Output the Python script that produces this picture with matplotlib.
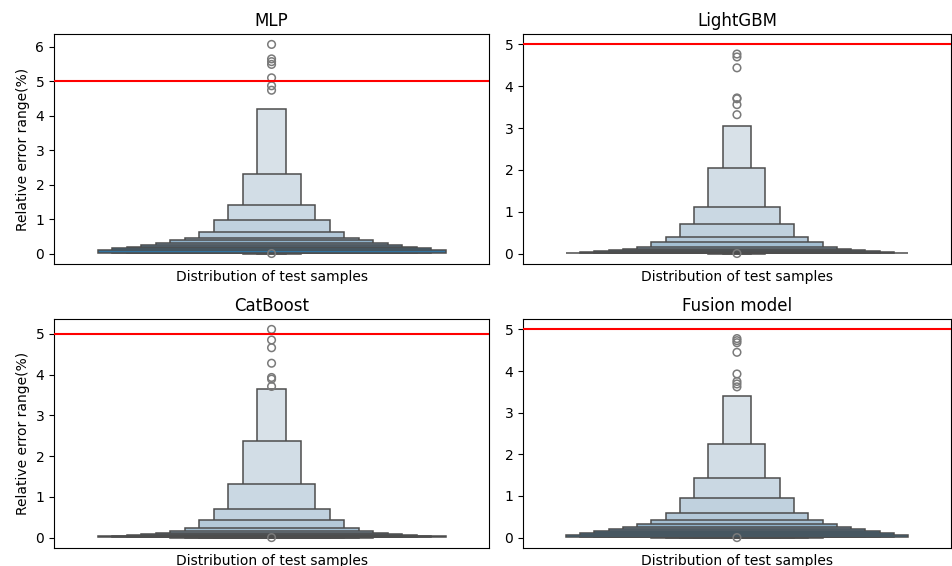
import numpy as np
import matplotlib
matplotlib.use("Agg")
import matplotlib.pyplot as plt
import seaborn as sns

# Letter-value boxes, index 0 = innermost (widest) box, last = outermost (narrowest).
models = ["MLP", "LightGBM", "CatBoost", "Fusion model"]

mlp_upper = [0.10, 0.15, 0.19, 0.25, 0.32, 0.39, 0.44, 0.62, 0.97, 1.42, 2.30, 4.19]
mlp_lower = [0.004, 0.0035, 0.003, 0.0025, 0.002, 0.0018, 0.0015, 0.0012, 0.001, 0.0008, 0.0005, 0.0]
mlp_outliers = [6.07, 5.65, 5.57, 5.49, 5.10, 4.87, 4.74, 0.0]

lgbm_upper = [0.024, 0.04, 0.056, 0.08, 0.11, 0.15, 0.265, 0.40, 0.705, 1.12, 2.05, 3.06]
lgbm_lower = [0.004, 0.0035, 0.003, 0.0025, 0.002, 0.0018, 0.0015, 0.0012, 0.001, 0.0008, 0.0005, 0.0]
lgbm_outliers = [4.77, 4.70, 4.44, 3.72, 3.70, 3.56, 3.32, 0.0]

cat_upper = [0.03, 0.04, 0.065, 0.08, 0.115, 0.16, 0.24, 0.43, 0.69, 1.31, 2.38, 3.64]
cat_lower = [0.012, 0.004, 0.0035, 0.003, 0.0025, 0.002, 0.0015, 0.0012, 0.001, 0.0008, 0.0005, 0.0]
cat_outliers = [5.11, 4.85, 4.66, 4.28, 3.93, 3.89, 3.71, 0.0]

fusion_upper = [0.064, 0.11, 0.16, 0.21, 0.265, 0.32, 0.42, 0.60, 0.95, 1.42, 2.24, 3.39]
fusion_lower = [0.006, 0.005, 0.004, 0.0035, 0.003, 0.0025, 0.002, 0.0015, 0.001, 0.0008, 0.0005, 0.0]
fusion_outliers = [4.78, 4.73, 4.68, 4.45, 3.93, 3.75, 3.69, 3.62, 0.0]

threshold = 5

uppers = [mlp_upper, lgbm_upper, cat_upper, fusion_upper]
lowers = [mlp_lower, lgbm_lower, cat_lower, fusion_lower]
outliers = [mlp_outliers, lgbm_outliers, cat_outliers, fusion_outliers]

# Same colouring as seaborn's boxenplot: light palette of the first default colour.
main_color = sns.desaturate("#1f77b4", 0.75)
cmap = sns.light_palette(main_color, as_cmap=True)
line_color = "#4d4d4d"

fig = plt.figure(figsize=(9.53, 5.66), dpi=100)

# Axes placement in figure fractions (left, bottom, width, height).
positions = [
    [0.0567, 0.5336, 0.4565, 0.4064],
    [0.5488, 0.5336, 0.4490, 0.4064],
    [0.0567, 0.0318, 0.4565, 0.4046],
    [0.5488, 0.0318, 0.4490, 0.4046],
]

for n, name in enumerate(models):
    ax = fig.add_axes(positions[n])
    hi = np.array(uppers[n])
    lo = np.array(lowers[n])
    k = len(hi)
    levels = np.arange(k)
    widths = 0.8 * (k - levels) / k
    colors = cmap(np.clip(2 ** ((2 - levels) / 3), 0, 1))

    # narrow boxes first, so the wide ones land on top
    order = levels[::-1]
    ax.bar(np.zeros(k), (hi - lo)[order], bottom=lo[order], width=widths[order],
           color=colors[order], edgecolor=line_color, linewidth=1.1, zorder=2)

    pts = outliers[n]
    ax.scatter(np.zeros(len(pts)), pts, s=30, facecolor="none",
               edgecolor="#7a7a7a", linewidth=1.1, zorder=3)

    ax.axhline(threshold, color="red", linewidth=1.5, zorder=4)

    # 5% padding around data and the threshold line
    ymin = min(lo.min(), min(pts))
    ymax = max(hi.max(), max(pts), threshold)
    pad = 0.05 * (ymax - ymin)
    ax.set_ylim(ymin - pad, ymax + pad)

    ax.set_xlim(-0.5, 0.5)
    ax.set_xticks([])
    ax.set_title(name)
    ax.set_xlabel("Distribution of test samples")
    if n % 2 == 0:
        ax.set_ylabel("Relative error range(%)")

plt.savefig("out.png", dpi=100)
